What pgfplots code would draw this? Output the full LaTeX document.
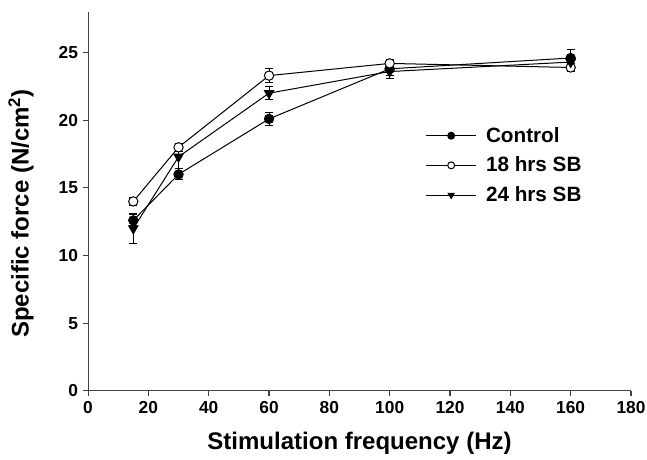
\documentclass[border=0pt]{standalone}
\usepackage{pgfplots}
\pgfplotsset{compat=1.18}
\usepackage{fontspec}
\setmainfont{Liberation Sans}
\begin{document}
\begin{tikzpicture}
\begin{axis}[
  name=ax,
  scale only axis,
  width=407pt, height=284pt,
  xmin=0, xmax=180, ymin=0, ymax=28,
  xtick={0,20,...,180}, ytick={0,5,...,25},
  axis lines=left,
  axis line style={-, line width=0.8pt, black!75},
  tick align=outside,
  tick style={black!75, line width=0.8pt},
  major tick length=4pt,
  /pgf/number format/assume math mode=true,
  ticklabel style={font=\fontsize{13}{15}\selectfont\bfseries},
  xlabel={Stimulation frequency (Hz)},
  ylabel={Specific force (N/cm$^{\mathbf{2}}$)},
  label style={font=\fontsize{18}{20}\selectfont\bfseries},
  xlabel style={yshift=-7pt},
  ylabel style={yshift=12pt, xshift=-9pt},
  legend style={at={(axis cs:110.5,19.9)}, anchor=north west, draw=none, fill=none,
    font=\fontsize{15.5}{17}\selectfont\bfseries, row sep=5.5pt,
    /tikz/every odd column/.append style={column sep=5pt}},
  legend cell align=left,
  legend image code/.code={%
    \draw[mark repeat=2, mark phase=2, line width=0.75pt, mark size=2.6pt]
      plot coordinates {(0cm,0cm) (0.66cm,0cm) (1.32cm,0cm)};},
  error bars/error bar style={line width=0.75pt, black},
  error bars/error mark options={rotate=90, mark size=3pt, line width=0.75pt, black},
]
\addplot[color=black, line width=0.75pt, mark=*, mark size=3.5pt, mark options={fill=black, solid},
  error bars/.cd, y dir=both, y explicit]
  coordinates {(15,12.6) +- (0,0.4) (30,16.0) +- (0,0.4) (60,20.1) +- (0,0.5) (100,23.8) +- (0,0.5) (160,24.6) +- (0,0.6)};
\addlegendentry{Control}
\addplot[color=black, line width=0.75pt, mark=*, mark size=3.5pt, mark options={fill=white, solid},
  error bars/.cd, y dir=both, y explicit]
  coordinates {(15,14.0) +- (0,0.3) (30,18.0) +- (0,0.3) (60,23.3) +- (0,0.5) (100,24.2) +- (0,0.3) (160,23.9) +- (0,0.3)};
\addlegendentry{18 hrs SB}
\addplot[color=black, line width=0.75pt, mark=triangle*, mark size=4pt, mark options={fill=black, solid, rotate=180},
  error bars/.cd, y dir=both, y explicit]
  coordinates {(15,12.0) +- (0,1.1) (30,17.3) +- (0,0.9) (60,22.0) +- (0,0.5) (100,23.6) +- (0,0.5) (160,24.3) +- (0,0.4)};
\addlegendentry{24 hrs SB}
\end{axis}
\pgfresetboundingbox
\useasboundingbox ([shift={(-66pt,-51.75pt)}]ax.south west) rectangle ([shift={(12pt,9pt)}]ax.north east);
\end{tikzpicture}
\end{document}
